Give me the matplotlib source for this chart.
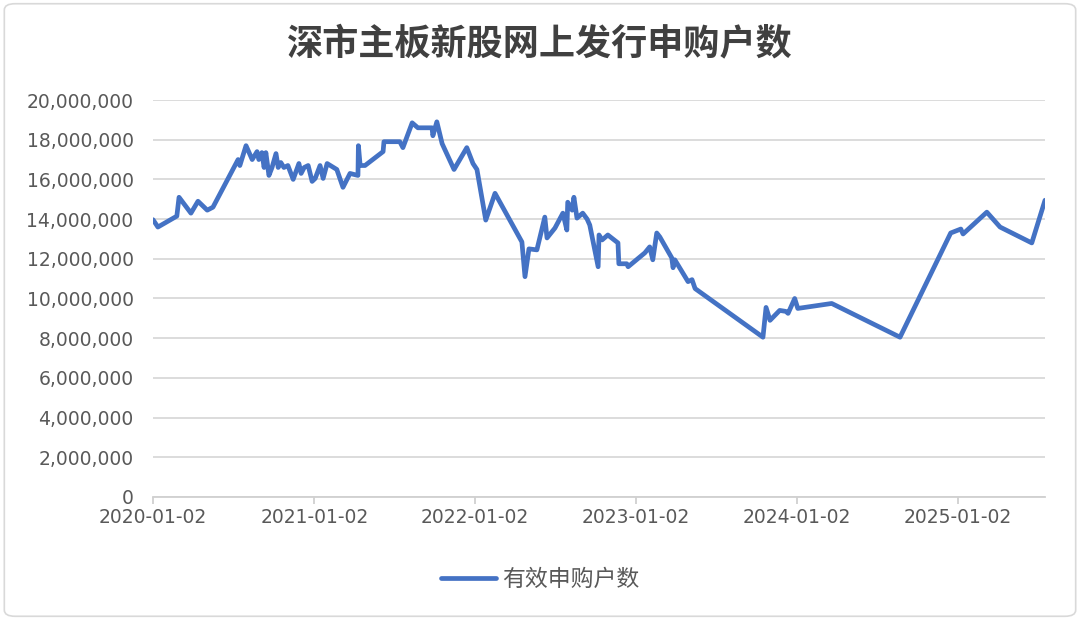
import pandas as pd
import numpy as np
import matplotlib.pyplot as plt
from matplotlib.ticker import FuncFormatter
from matplotlib.patches import FancyBboxPatch

plt.rcParams['font.family'] = ['Noto Sans CJK SC', 'DejaVu Sans']

# 深市主板新股网上发行 有效申购户数
dates = [
    '2020-01-02', '2020-01-13', '2020-02-25', '2020-03-01', '2020-03-28', '2020-04-13',
    '2020-05-04', '2020-05-17', '2020-07-13', '2020-07-17', '2020-07-31', '2020-08-14',
    '2020-08-25', '2020-08-29', '2020-09-05', '2020-09-10', '2020-09-14', '2020-09-21',
    '2020-09-28', '2020-10-07', '2020-10-12', '2020-10-18', '2020-10-25', '2020-11-03',
    '2020-11-15', '2020-11-28', '2020-12-03', '2020-12-10', '2020-12-19', '2020-12-28',
    '2021-01-04', '2021-01-15', '2021-01-22', '2021-01-31', '2021-02-22', '2021-03-08',
    '2021-03-24', '2021-04-11', '2021-04-12', '2021-04-16', '2021-04-27', '2021-06-07',
    '2021-06-09', '2021-07-15', '2021-07-22', '2021-08-12', '2021-08-25', '2021-09-26',
    '2021-09-28', '2021-10-07', '2021-10-19', '2021-11-15', '2021-12-14', '2021-12-28',
    '2022-01-06', '2022-01-26', '2022-02-16', '2022-04-18', '2022-04-25', '2022-05-04',
    '2022-05-22', '2022-06-09', '2022-06-14', '2022-07-02', '2022-07-20', '2022-07-29',
    '2022-07-31', '2022-08-10', '2022-08-14', '2022-08-21', '2022-09-03', '2022-09-13',
    '2022-09-19', '2022-10-08', '2022-10-10', '2022-10-17', '2022-10-30', '2022-11-22',
    '2022-11-24', '2022-12-12', '2022-12-15', '2023-01-22', '2023-02-02', '2023-02-09',
    '2023-02-18', '2023-02-25', '2023-03-24', '2023-03-27', '2023-03-31', '2023-04-30',
    '2023-05-09', '2023-05-16', '2023-10-17', '2023-10-24', '2023-11-02', '2023-11-24',
    '2023-12-08', '2023-12-13', '2023-12-28', '2024-01-04', '2024-03-21', '2024-08-23',
    '2024-12-16', '2025-01-08', '2025-01-13', '2025-03-08', '2025-04-07', '2025-06-18',
    '2025-07-18',
]
households = [
    13970000, 13600000, 14150000, 15100000, 14300000, 14900000,
    14450000, 14600000, 17000000, 16700000, 17700000, 17000000,
    17400000, 17000000, 17350000, 16600000, 17350000, 16200000,
    16600000, 17300000, 16600000, 16850000, 16600000, 16700000,
    16000000, 16800000, 16300000, 16600000, 16700000, 15900000,
    16050000, 16700000, 16050000, 16800000, 16500000, 15600000,
    16300000, 16200000, 17700000, 16700000, 16700000, 17400000,
    17900000, 17900000, 17600000, 18850000, 18600000, 18600000,
    18200000, 18900000, 17800000, 16500000, 17600000, 16800000,
    16500000, 13950000, 15300000, 12850000, 11100000, 12500000,
    12450000, 14100000, 13050000, 13550000, 14300000, 13450000,
    14850000, 14450000, 15100000, 14050000, 14300000, 14000000,
    13700000, 11600000, 13200000, 12950000, 13200000, 12800000,
    11750000, 11750000, 11600000, 12300000, 12600000, 11950000,
    13300000, 13100000, 12050000, 11550000, 11950000, 10850000,
    10950000, 10500000, 8050000, 9550000, 8900000, 9400000,
    9350000, 9250000, 10000000, 9500000, 9750000, 8050000,
    13300000, 13500000, 13250000, 14350000, 13600000, 12800000,
    14950000,
]
year_ticks = ['2020-01-02', '2021-01-02', '2022-01-02', '2023-01-02', '2024-01-02', '2025-01-02']

df = pd.DataFrame({'date': pd.to_datetime(dates), 'value': households})

fig = plt.figure(figsize=(10.8, 6.2), dpi=100)
ax = fig.add_axes([0.1417, 0.1984, 0.8259, 0.6403])

ax.plot(df['date'], df['value'], color='#4472C4', linewidth=3.4,
        solid_joinstyle='round', solid_capstyle='round', label='有效申购户数')

ax.set_ylim(0, 20000000)
ax.set_yticks(np.arange(0, 20000001, 2000000))
ax.yaxis.set_major_formatter(FuncFormatter(lambda v, p: f'{int(v):,}'))
ax.set_xlim(df['date'].iloc[0], df['date'].iloc[-1])
ax.set_xticks(pd.to_datetime(year_ticks))
ax.set_xticklabels(year_ticks)

ax.grid(axis='y', color='#D9D9D9', linewidth=1.3)
ax.set_axisbelow(True)
for s in ['top', 'right', 'left']:
    ax.spines[s].set_visible(False)
ax.spines['bottom'].set_color('#D0D0D0')
ax.spines['bottom'].set_linewidth(1.3)
ax.tick_params(axis='y', length=0, labelcolor='#595959', pad=14)
ax.tick_params(axis='x', length=5, width=1.3, color='#D0D0D0',
               labelcolor='#595959', pad=3)
for lab in ax.get_xticklabels() + ax.get_yticklabels():
    lab.set_family('DejaVu Sans')
    lab.set_fontsize(13.5)

fig.text(0.5, 0.928, '深市主板新股网上发行申购户数', ha='center', va='center',
         fontsize=26, fontweight='bold', color='#404040')

leg = fig.legend(loc='center', bbox_to_anchor=(0.5, 0.065), frameon=False,
                 fontsize=16.5, handlelength=2.4, handletextpad=0.25)
for t in leg.get_texts():
    t.set_color('#595959')

# 外框
fig.patches.append(FancyBboxPatch((0.004, 0.006), 0.992, 0.988,
                                  boxstyle='round,pad=0,rounding_size=0.01',
                                  transform=fig.transFigure, facecolor='none',
                                  edgecolor='#D9D9D9', linewidth=1.2))

fig.savefig('out.png', dpi=100)
